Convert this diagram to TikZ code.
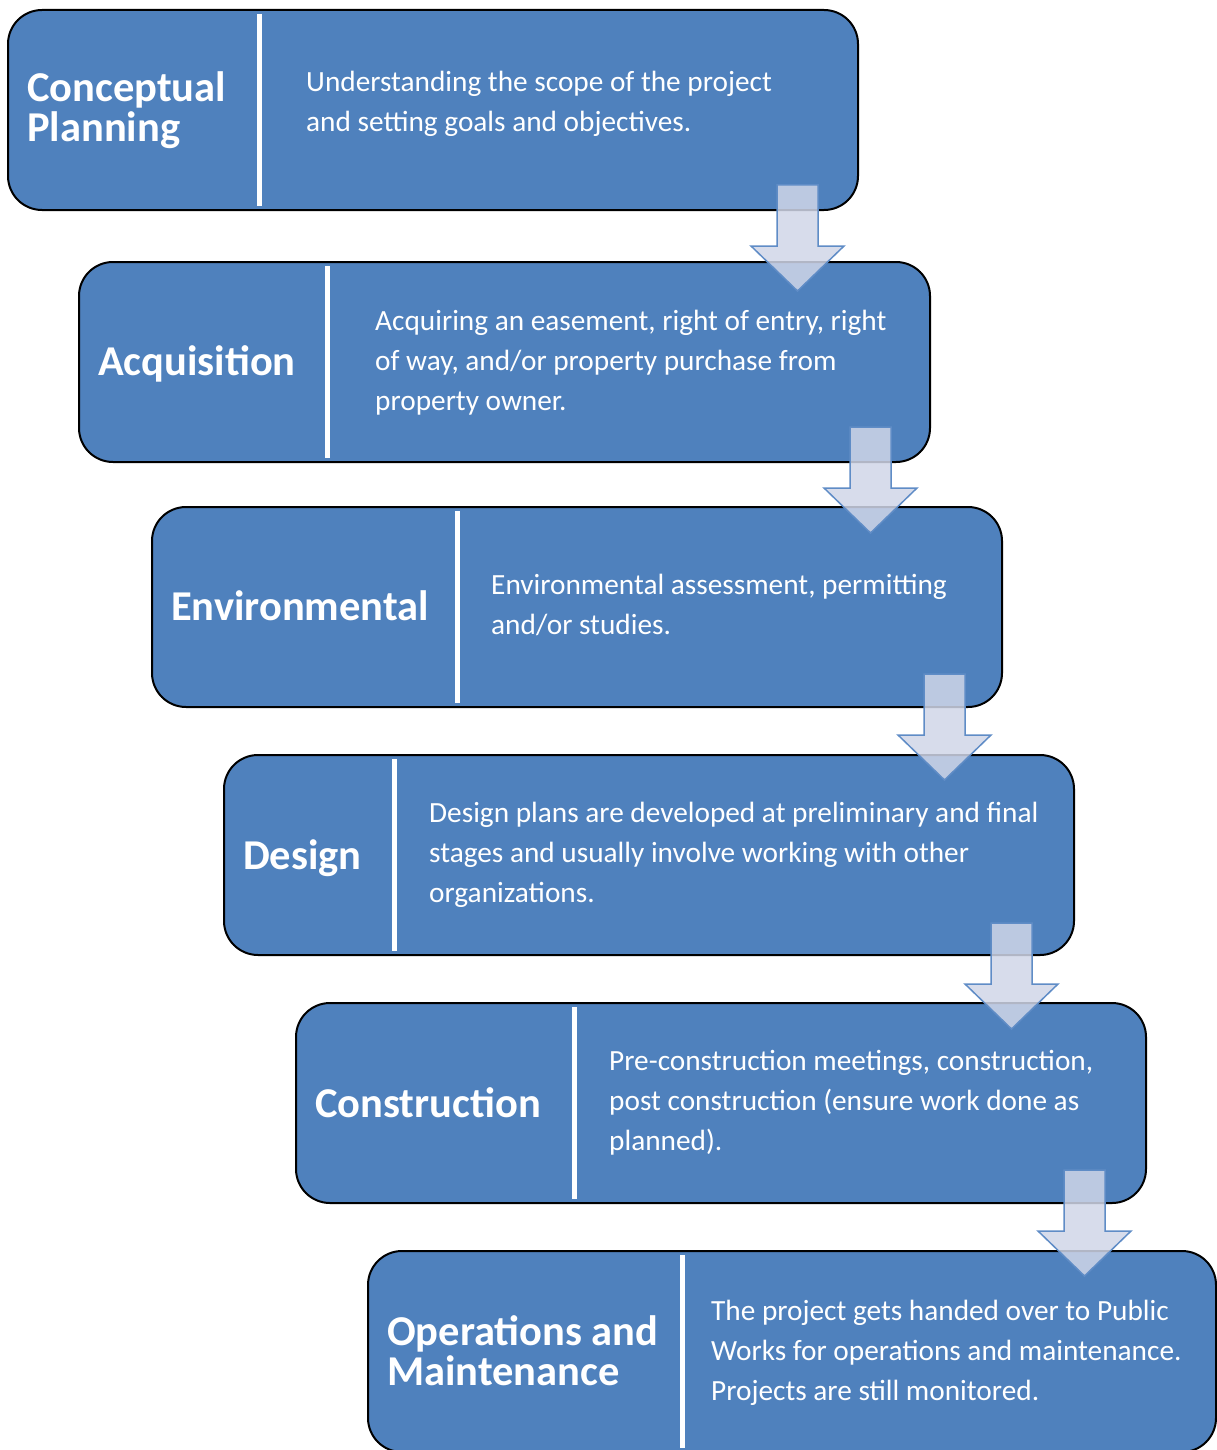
\documentclass[tikz,border=0pt]{standalone}
\usepackage{fontspec}
\setmainfont{Carlito}
\definecolor{boxblue}{HTML}{4F81BD}
\definecolor{arrfill}{HTML}{D0D6E8}
\definecolor{arrline}{HTML}{5F8CC6}
\begin{document}
\begin{tikzpicture}[x=1pt,y=-1pt,
  stagebox/.style={draw=black, line width=2pt, fill=boxblue, rounded corners=34pt},
  divider/.style={draw=white, line width=5pt},
  titletext/.style={anchor=base west, align=left, text=white, font=\fontsize{42.5}{40}\selectfont\bfseries, inner sep=0pt},
  desctext/.style={anchor=base west, align=left, text=white, font=\fontsize{29.3}{40}\selectfont, inner sep=0pt},
  downarrow/.style={fill=arrfill, fill opacity=0.85, draw=arrline, line width=1.5pt, line join=miter}
]
\useasboundingbox (0,0) rectangle (1216,1450);
% Stage 1
\path[stagebox] (8,10) rectangle (858,210);
\draw[divider] (259,14) -- (259,206);
\node[titletext] (s1t) at (27,142) {Conceptual\\Planning};
\node[desctext] (s1d) at (306,132) {Understanding the scope of the project\\and setting goals and objectives.};
% Stage 2
\path[stagebox] (79,262) rectangle (930,462);
\draw[divider] (327,266) -- (327,458);
\node[titletext] (s2t) at (98,375) {Acquisition};
\node[desctext] (s2d) at (375,410) {Acquiring an easement, right of entry, right\\of way, and/or property purchase from\\property owner.};
% Stage 3
\path[stagebox] (152,507) rectangle (1002,707);
\draw[divider] (457,511) -- (457,703);
\node[titletext] (s3t) at (171,620) {Environmental};
\node[desctext] (s3d) at (491,634) {Environmental assessment, permitting\\and/or studies.};
% Stage 4
\path[stagebox] (224,755) rectangle (1074,955);
\draw[divider] (394,759) -- (394,951);
\node[titletext] (s4t) at (243,869) {Design};
\node[desctext] (s4d) at (429,902) {Design plans are developed at preliminary and final\\stages and usually involve working with other\\organizations.};
% Stage 5
\path[stagebox] (296,1003) rectangle (1146,1203);
\draw[divider] (574,1007) -- (574,1199);
\node[titletext] (s5t) at (315,1117) {Construction};
\node[desctext] (s5d) at (609,1150) {Pre-construction meetings, construction,\\post construction (ensure work done as\\planned).};
% Stage 6
\path[stagebox] (368,1251) rectangle (1216,1452);
\draw[divider] (682,1255) -- (682,1448);
\node[titletext] (s6t) at (387,1385) {Operations and\\Maintenance};
\node[desctext] (s6d) at (711,1400) {The project gets handed over to Public\\Works for operations and maintenance.\\Projects are still monitored.};
% arrows
\newcommand{\darrow}[2]{%
  \path[downarrow] (#1,#2) -- (#1+41,#2) -- (#1+41,#2+61) -- (#1+67,#2+61) -- (#1+20.5,#2+106) -- (#1-26,#2+61) -- (#1,#2+61) -- cycle;
}
\darrow{777}{185}
\darrow{850}{427}
\darrow{924}{674}
\darrow{991}{923}
\darrow{1064}{1170}
\end{tikzpicture}
\end{document}
